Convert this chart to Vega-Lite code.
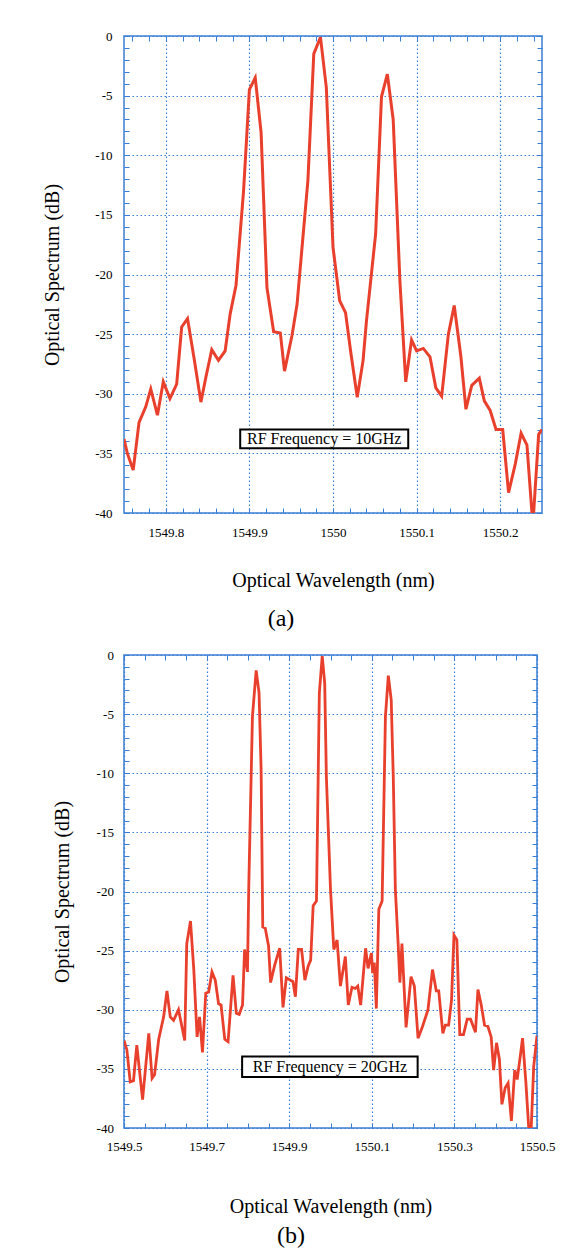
{
  "$schema": "https://vega.github.io/schema/vega-lite/v6.json",
  "padding": {"left": 41, "top": 29, "right": 5, "bottom": 5},
  "background": "white",
  "columns": 1,
  "align": "none",
  "spacing": 16,
  "datasets": {
    "a": [
      {"wl": 1549.750, "db": -33.8}, {"wl": 1549.754, "db": -35.0}, {"wl": 1549.761, "db": -36.4}, {"wl": 1549.768, "db": -32.4},
      {"wl": 1549.776, "db": -31.1}, {"wl": 1549.782, "db": -29.6}, {"wl": 1549.790, "db": -31.8}, {"wl": 1549.797, "db": -29.0},
      {"wl": 1549.805, "db": -30.4}, {"wl": 1549.813, "db": -29.2}, {"wl": 1549.819, "db": -24.4}, {"wl": 1549.826, "db": -23.7},
      {"wl": 1549.834, "db": -27.1}, {"wl": 1549.842, "db": -30.7}, {"wl": 1549.848, "db": -28.6}, {"wl": 1549.855, "db": -26.3},
      {"wl": 1549.863, "db": -27.2}, {"wl": 1549.871, "db": -26.4}, {"wl": 1549.877, "db": -23.3}, {"wl": 1549.884, "db": -20.9},
      {"wl": 1549.893, "db": -13.0}, {"wl": 1549.900, "db": -4.5}, {"wl": 1549.907, "db": -3.5}, {"wl": 1549.914, "db": -8.1},
      {"wl": 1549.921, "db": -21.1}, {"wl": 1549.929, "db": -24.8}, {"wl": 1549.937, "db": -24.9}, {"wl": 1549.942, "db": -28.1},
      {"wl": 1549.951, "db": -25.1}, {"wl": 1549.957, "db": -22.5}, {"wl": 1549.970, "db": -12.1}, {"wl": 1549.977, "db": -1.5},
      {"wl": 1549.985, "db": -0.1}, {"wl": 1549.992, "db": -4.3}, {"wl": 1550.000, "db": -17.7}, {"wl": 1550.008, "db": -22.2},
      {"wl": 1550.015, "db": -23.2}, {"wl": 1550.021, "db": -26.4}, {"wl": 1550.029, "db": -30.3}, {"wl": 1550.036, "db": -27.2},
      {"wl": 1550.040, "db": -23.9}, {"wl": 1550.051, "db": -16.6}, {"wl": 1550.058, "db": -5.1}, {"wl": 1550.065, "db": -3.2},
      {"wl": 1550.072, "db": -7.0}, {"wl": 1550.080, "db": -20.5}, {"wl": 1550.087, "db": -29.0}, {"wl": 1550.094, "db": -25.5},
      {"wl": 1550.100, "db": -26.4}, {"wl": 1550.108, "db": -26.2}, {"wl": 1550.116, "db": -26.9}, {"wl": 1550.123, "db": -29.5},
      {"wl": 1550.130, "db": -30.2}, {"wl": 1550.138, "db": -25.0}, {"wl": 1550.145, "db": -22.6}, {"wl": 1550.153, "db": -26.9},
      {"wl": 1550.159, "db": -31.3}, {"wl": 1550.166, "db": -29.3}, {"wl": 1550.175, "db": -28.7}, {"wl": 1550.181, "db": -30.6},
      {"wl": 1550.188, "db": -31.4}, {"wl": 1550.195, "db": -33.0}, {"wl": 1550.203, "db": -33.0}, {"wl": 1550.210, "db": -38.3},
      {"wl": 1550.218, "db": -35.9}, {"wl": 1550.225, "db": -33.3}, {"wl": 1550.232, "db": -34.3}, {"wl": 1550.238, "db": -40.0},
      {"wl": 1550.240, "db": -40.0}, {"wl": 1550.246, "db": -33.4}, {"wl": 1550.250, "db": -33.0}
    ],
    "b": [
      {"wl": 1549.500, "db": -32.6}, {"wl": 1549.507, "db": -33.4}, {"wl": 1549.515, "db": -36.1}, {"wl": 1549.523, "db": -36.0},
      {"wl": 1549.531, "db": -33.0}, {"wl": 1549.545, "db": -37.6}, {"wl": 1549.560, "db": -32.0}, {"wl": 1549.568, "db": -35.8},
      {"wl": 1549.574, "db": -35.5}, {"wl": 1549.584, "db": -32.5}, {"wl": 1549.596, "db": -30.6}, {"wl": 1549.604, "db": -28.4},
      {"wl": 1549.612, "db": -30.6}, {"wl": 1549.620, "db": -30.9}, {"wl": 1549.632, "db": -30.0}, {"wl": 1549.647, "db": -32.6},
      {"wl": 1549.652, "db": -24.4}, {"wl": 1549.661, "db": -22.5}, {"wl": 1549.669, "db": -26.6}, {"wl": 1549.677, "db": -32.3},
      {"wl": 1549.683, "db": -30.6}, {"wl": 1549.690, "db": -33.6}, {"wl": 1549.698, "db": -28.6}, {"wl": 1549.705, "db": -28.5},
      {"wl": 1549.713, "db": -26.8}, {"wl": 1549.721, "db": -27.5}, {"wl": 1549.729, "db": -29.5}, {"wl": 1549.735, "db": -29.6},
      {"wl": 1549.744, "db": -32.5}, {"wl": 1549.752, "db": -32.7}, {"wl": 1549.764, "db": -27.1}, {"wl": 1549.772, "db": -30.3},
      {"wl": 1549.779, "db": -30.4}, {"wl": 1549.787, "db": -29.6}, {"wl": 1549.792, "db": -24.9}, {"wl": 1549.799, "db": -26.8},
      {"wl": 1549.802, "db": -19.8}, {"wl": 1549.811, "db": -5.2}, {"wl": 1549.820, "db": -1.3}, {"wl": 1549.827, "db": -3.2},
      {"wl": 1549.832, "db": -9.7}, {"wl": 1549.836, "db": -23.0}, {"wl": 1549.842, "db": -23.1}, {"wl": 1549.850, "db": -24.6},
      {"wl": 1549.855, "db": -27.7}, {"wl": 1549.865, "db": -26.2}, {"wl": 1549.877, "db": -24.8}, {"wl": 1549.885, "db": -29.8},
      {"wl": 1549.893, "db": -27.3}, {"wl": 1549.903, "db": -27.5}, {"wl": 1549.909, "db": -27.6}, {"wl": 1549.915, "db": -28.9},
      {"wl": 1549.922, "db": -24.9}, {"wl": 1549.930, "db": -24.9}, {"wl": 1549.938, "db": -27.5}, {"wl": 1549.946, "db": -26.3},
      {"wl": 1549.952, "db": -25.8}, {"wl": 1549.958, "db": -21.2}, {"wl": 1549.966, "db": -20.8}, {"wl": 1549.973, "db": -3.2},
      {"wl": 1549.980, "db": -0.1}, {"wl": 1549.986, "db": -2.4}, {"wl": 1549.990, "db": -10.3}, {"wl": 1550.000, "db": -19.8},
      {"wl": 1550.008, "db": -24.9}, {"wl": 1550.016, "db": -24.1}, {"wl": 1550.024, "db": -28.0}, {"wl": 1550.036, "db": -25.5},
      {"wl": 1550.043, "db": -29.6}, {"wl": 1550.052, "db": -28.1}, {"wl": 1550.060, "db": -28.2}, {"wl": 1550.066, "db": -28.0},
      {"wl": 1550.073, "db": -29.6}, {"wl": 1550.085, "db": -24.8}, {"wl": 1550.091, "db": -26.5}, {"wl": 1550.099, "db": -25.2},
      {"wl": 1550.102, "db": -26.9}, {"wl": 1550.106, "db": -26.0}, {"wl": 1550.111, "db": -29.9}, {"wl": 1550.117, "db": -21.5},
      {"wl": 1550.125, "db": -20.8}, {"wl": 1550.133, "db": -5.2}, {"wl": 1550.140, "db": -1.75}, {"wl": 1550.147, "db": -3.8},
      {"wl": 1550.152, "db": -10.3}, {"wl": 1550.157, "db": -19.8}, {"wl": 1550.164, "db": -24.6}, {"wl": 1550.168, "db": -27.7},
      {"wl": 1550.173, "db": -24.4}, {"wl": 1550.183, "db": -31.5}, {"wl": 1550.195, "db": -27.2}, {"wl": 1550.203, "db": -28.0},
      {"wl": 1550.212, "db": -32.4}, {"wl": 1550.223, "db": -31.4}, {"wl": 1550.236, "db": -30.0}, {"wl": 1550.247, "db": -26.6},
      {"wl": 1550.256, "db": -28.4}, {"wl": 1550.262, "db": -28.4}, {"wl": 1550.272, "db": -32.0}, {"wl": 1550.278, "db": -31.3},
      {"wl": 1550.286, "db": -31.3}, {"wl": 1550.293, "db": -29.2}, {"wl": 1550.299, "db": -23.7}, {"wl": 1550.306, "db": -24.1},
      {"wl": 1550.313, "db": -32.1}, {"wl": 1550.322, "db": -32.1}, {"wl": 1550.331, "db": -30.8}, {"wl": 1550.339, "db": -30.8},
      {"wl": 1550.351, "db": -31.9}, {"wl": 1550.357, "db": -28.3}, {"wl": 1550.365, "db": -29.6}, {"wl": 1550.373, "db": -31.3},
      {"wl": 1550.381, "db": -31.4}, {"wl": 1550.389, "db": -32.3}, {"wl": 1550.395, "db": -35.1}, {"wl": 1550.402, "db": -32.8},
      {"wl": 1550.409, "db": -34.2}, {"wl": 1550.415, "db": -38.0}, {"wl": 1550.423, "db": -36.6}, {"wl": 1550.430, "db": -36.2},
      {"wl": 1550.438, "db": -39.4}, {"wl": 1550.446, "db": -35.1}, {"wl": 1550.452, "db": -35.9}, {"wl": 1550.460, "db": -33.8},
      {"wl": 1550.465, "db": -32.4}, {"wl": 1550.473, "db": -36.1}, {"wl": 1550.480, "db": -40.0}, {"wl": 1550.486, "db": -40.0},
      {"wl": 1550.492, "db": -34.8}, {"wl": 1550.500, "db": -32.2}
    ],
    "boxA": [{"x1": 1549.889, "x2": 1550.090, "y1": -33.0, "y2": -34.57, "xc": 1549.9895, "yc": -33.78, "label": "RF Frequency = 10GHz"}],
    "boxB": [{"x1": 1549.786, "x2": 1550.211, "y1": -33.95, "y2": -35.69, "xc": 1549.9985, "yc": -34.82, "label": "RF Frequency = 20GHz"}]
  },
  "concat": [
    {
      "width": 418,
      "height": 477,
      "title": {"text": "(a)", "orient": "bottom", "frame": "group", "anchor": "middle", "dx": -52, "offset": 16, "fontSize": 24, "font": "Liberation Serif, Times New Roman, serif", "fontWeight": "normal", "color": "black"},
      "layer": [
        {
          "data": {"name": "a"},
          "mark": {"type": "line", "color": "#e8402c", "strokeWidth": 3, "clip": true},
          "encoding": {
            "x": {"field": "wl", "type": "quantitative", "scale": {"domain": [1549.75, 1550.25], "nice": false, "zero": false},
              "axis": {"orient": "bottom",
                "values": [1549.76, 1549.78, 1549.8, 1549.82, 1549.84, 1549.86, 1549.88, 1549.9, 1549.92, 1549.94, 1549.96, 1549.98, 1550, 1550.02, 1550.04, 1550.06, 1550.08, 1550.1, 1550.12, 1550.14, 1550.16, 1550.18, 1550.2, 1550.22, 1550.24],
                "labelExpr": "abs(datum.value*10 - round(datum.value*10)) < 0.001 ? '' + datum.value : ''",
                "gridOpacity": {"condition": {"test": "abs(datum.value*10 - round(datum.value*10)) < 0.001", "value": 1}, "value": 0},
                "labelPadding": 24, "title": "Optical Wavelength (nm)", "titleY": 67.6}},
            "y": {"field": "db", "type": "quantitative", "scale": {"domain": [-40, 0], "nice": false, "zero": false},
              "axis": {"orient": "left",
                "values": [-40, -39, -38, -37, -36, -35, -34, -33, -32, -31, -30, -29, -28, -27, -26, -25, -24, -23, -22, -21, -20, -19, -18, -17, -16, -15, -14, -13, -12, -11, -10, -9, -8, -7, -6, -5, -4, -3, -2, -1, 0],
                "labelExpr": "datum.value % 5 == 0 ? '' + datum.value : ''",
                "gridOpacity": {"condition": {"test": "datum.value % 5 == 0", "value": 1}, "value": 0},
                "labelPadding": 17, "title": "Optical Spectrum (dB)", "titleX": -72}}
          }
        },
        {
          "data": {"name": "boxA"},
          "mark": {"type": "rect", "fill": "white", "stroke": "black", "strokeWidth": 2},
          "encoding": {
            "x": {"field": "x1", "type": "quantitative", "scale": {"domain": [1549.75, 1550.25], "nice": false, "zero": false},
              "axis": {"orient": "top", "labels": false, "grid": false, "title": null,
                "values": [1549.76, 1549.78, 1549.8, 1549.82, 1549.84, 1549.86, 1549.88, 1549.9, 1549.92, 1549.94, 1549.96, 1549.98, 1550, 1550.02, 1550.04, 1550.06, 1550.08, 1550.1, 1550.12, 1550.14, 1550.16, 1550.18, 1550.2, 1550.22, 1550.24]}},
            "x2": {"field": "x2"},
            "y": {"field": "y1", "type": "quantitative", "scale": {"domain": [-40, 0], "nice": false, "zero": false},
              "axis": {"orient": "right", "labels": false, "grid": false, "title": null,
                "values": [-40, -39, -38, -37, -36, -35, -34, -33, -32, -31, -30, -29, -28, -27, -26, -25, -24, -23, -22, -21, -20, -19, -18, -17, -16, -15, -14, -13, -12, -11, -10, -9, -8, -7, -6, -5, -4, -3, -2, -1, 0]}},
            "y2": {"field": "y2"}
          }
        },
        {
          "data": {"name": "boxA"},
          "mark": {"type": "text", "font": "Liberation Serif, Times New Roman, serif", "fontSize": 16, "color": "black", "baseline": "middle", "align": "center"},
          "encoding": {
            "x": {"field": "xc", "type": "quantitative", "scale": {"domain": [1549.75, 1550.25], "nice": false, "zero": false}, "axis": null},
            "y": {"field": "yc", "type": "quantitative", "scale": {"domain": [-40, 0], "nice": false, "zero": false}, "axis": null},
            "text": {"field": "label"}
          }
        }
      ],
      "resolve": {"scale": {"x": "independent", "y": "independent"}}
    },
    {
      "width": 413,
      "height": 473,
      "title": {"text": "(b)", "orient": "bottom", "frame": "group", "anchor": "middle", "dx": -39.5, "offset": 8, "fontSize": 24, "font": "Liberation Serif, Times New Roman, serif", "fontWeight": "normal", "color": "black"},
      "layer": [
        {
          "data": {"name": "b"},
          "mark": {"type": "line", "color": "#e8402c", "strokeWidth": 2.8, "clip": true},
          "encoding": {
            "x": {"field": "wl", "type": "quantitative", "scale": {"domain": [1549.5, 1550.5], "nice": false, "zero": false},
              "axis": {"orient": "bottom",
                "values": [1549.5, 1549.55, 1549.6, 1549.65, 1549.7, 1549.75, 1549.8, 1549.85, 1549.9, 1549.95, 1550, 1550.05, 1550.1, 1550.15, 1550.2, 1550.25, 1550.3, 1550.35, 1550.4, 1550.45, 1550.5],
                "labelExpr": "abs((datum.value - 1549.5)*5 - round((datum.value - 1549.5)*5)) < 0.001 ? '' + datum.value : ''",
                "gridOpacity": {"condition": {"test": "abs((datum.value - 1549.5)*5 - round((datum.value - 1549.5)*5)) < 0.001", "value": 1}, "value": 0},
                "labelPadding": 23, "title": "Optical Wavelength (nm)", "titleY": 78.2}},
            "y": {"field": "db", "type": "quantitative", "scale": {"domain": [-40, 0], "nice": false, "zero": false},
              "axis": {"orient": "left",
                "values": [-40, -39, -38, -37, -36, -35, -34, -33, -32, -31, -30, -29, -28, -27, -26, -25, -24, -23, -22, -21, -20, -19, -18, -17, -16, -15, -14, -13, -12, -11, -10, -9, -8, -7, -6, -5, -4, -3, -2, -1, 0],
                "labelExpr": "datum.value % 5 == 0 ? '' + datum.value : ''",
                "gridOpacity": {"condition": {"test": "datum.value % 5 == 0", "value": 1}, "value": 0},
                "labelPadding": 15.6, "title": "Optical Spectrum (dB)", "titleX": -62}}
          }
        },
        {
          "data": {"name": "boxB"},
          "mark": {"type": "rect", "fill": "white", "stroke": "black", "strokeWidth": 2},
          "encoding": {
            "x": {"field": "x1", "type": "quantitative", "scale": {"domain": [1549.5, 1550.5], "nice": false, "zero": false},
              "axis": {"orient": "top", "labels": false, "grid": false, "title": null,
                "values": [1549.5, 1549.55, 1549.6, 1549.65, 1549.7, 1549.75, 1549.8, 1549.85, 1549.9, 1549.95, 1550, 1550.05, 1550.1, 1550.15, 1550.2, 1550.25, 1550.3, 1550.35, 1550.4, 1550.45, 1550.5]}},
            "x2": {"field": "x2"},
            "y": {"field": "y1", "type": "quantitative", "scale": {"domain": [-40, 0], "nice": false, "zero": false},
              "axis": {"orient": "right", "labels": false, "grid": false, "title": null,
                "values": [-40, -39, -38, -37, -36, -35, -34, -33, -32, -31, -30, -29, -28, -27, -26, -25, -24, -23, -22, -21, -20, -19, -18, -17, -16, -15, -14, -13, -12, -11, -10, -9, -8, -7, -6, -5, -4, -3, -2, -1, 0]}},
            "y2": {"field": "y2"}
          }
        },
        {
          "data": {"name": "boxB"},
          "mark": {"type": "text", "font": "Liberation Serif, Times New Roman, serif", "fontSize": 16, "color": "black", "baseline": "middle", "align": "center"},
          "encoding": {
            "x": {"field": "xc", "type": "quantitative", "scale": {"domain": [1549.5, 1550.5], "nice": false, "zero": false}, "axis": null},
            "y": {"field": "yc", "type": "quantitative", "scale": {"domain": [-40, 0], "nice": false, "zero": false}, "axis": null},
            "text": {"field": "label"}
          }
        }
      ],
      "resolve": {"scale": {"x": "independent", "y": "independent"}}
    }
  ],
  "config": {
    "view": {"stroke": "#3a7fd5", "strokeWidth": 1.5},
    "font": "Liberation Serif, Times New Roman, serif",
    "axis": {
      "domain": false,
      "tickSize": -5,
      "tickColor": "#3a7fd5",
      "tickWidth": 1,
      "grid": true,
      "gridColor": "#3a7fd5",
      "gridDash": [1.5, 2.5],
      "gridWidth": 1.2,
      "labelFont": "Liberation Serif, Times New Roman, serif",
      "labelFontSize": 13,
      "labelColor": "black",
      "labelFlush": false,
      "labelOverlap": false,
      "labelBound": false,
      "titleFont": "Liberation Serif, Times New Roman, serif",
      "titleFontSize": 20,
      "titleFontWeight": "normal",
      "titleColor": "black"
    },
    "axisBottom": {"labelBaseline": "middle", "titleBaseline": "middle"},
    "axisLeft": {"titleBaseline": "middle", "titleAlign": "center"}
  }
}
